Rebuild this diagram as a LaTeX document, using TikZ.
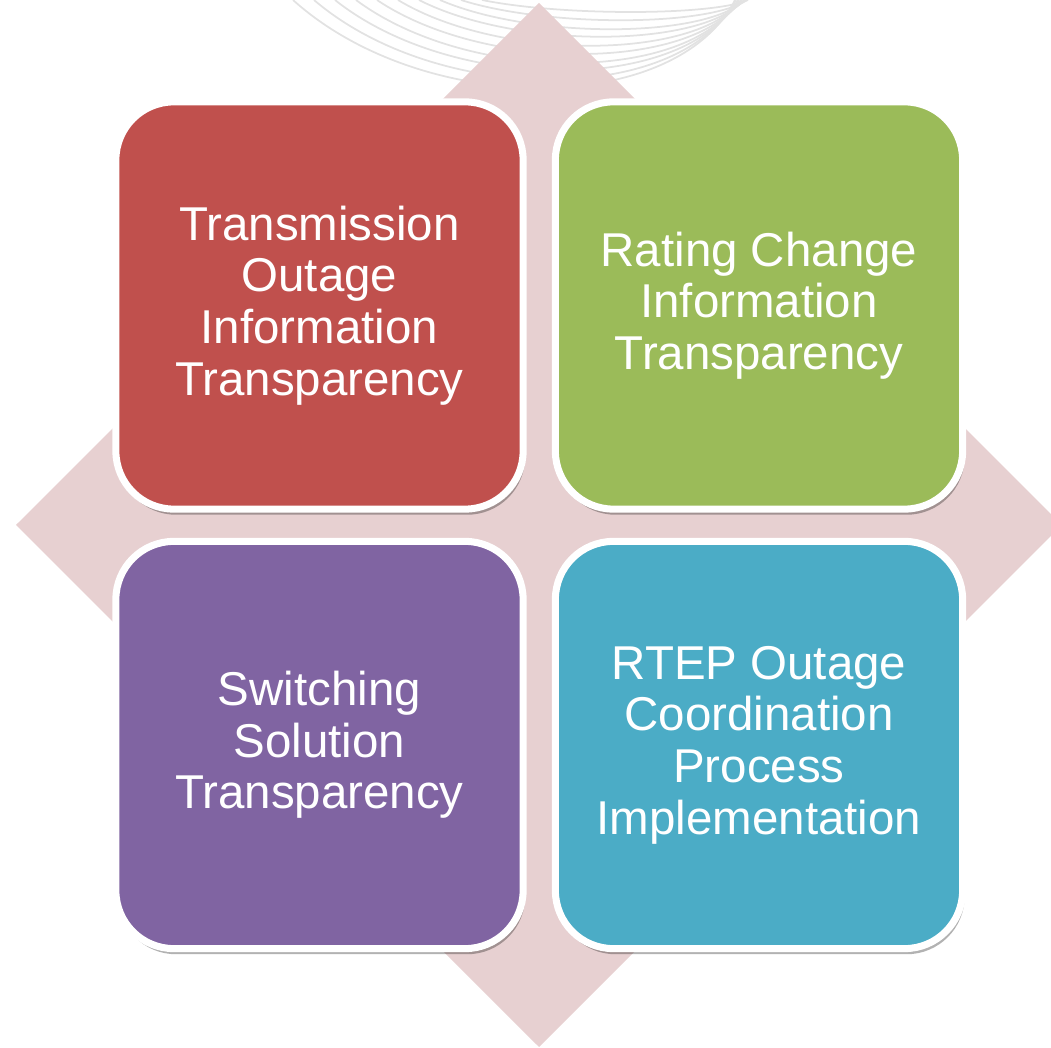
\documentclass[tikz,border=0pt]{standalone}
\usepackage{fontspec}
\setmainfont{Liberation Sans}
\usepackage{tikz}
\usetikzlibrary{shadows}
\usetikzlibrary{positioning}
\definecolor{quad_red}{HTML}{C0504D}
\definecolor{quad_green}{HTML}{9BBB59}
\definecolor{quad_purple}{HTML}{8064A2}
\definecolor{quad_teal}{HTML}{4BACC6}
\definecolor{quad_pink}{HTML}{E7D0D1}
\definecolor{quad_arc}{HTML}{E2E2E2}
\tikzstyle{quad_arc}=[draw=quad_arc, line width=0.5pt]
\tikzstyle{quad_box}=[
    rectangle, rounded corners=0.58cm, minimum size=4.07cm,
    draw=white, line width=2pt, text=white, align=center,
    font=\fontsize{13.5}{14.7}\selectfont,
    drop shadow={shadow xshift=0.6pt, shadow yshift=-1.6pt, fill=black, opacity=.3}
]

\begin{document}
\begin{tikzpicture}[x=0.01cm, y=0.01cm]
\useasboundingbox (0,0) rectangle (1051,1048);
\clip (0,0) rectangle (1051,1048);
\draw[quad_arc](293,1048) .. controls (423,931) and (675,931) .. (735,1048);
\draw[quad_arc](314,1048) .. controls (438,942) and (679,942) .. (736,1048);
\draw[quad_arc](335,1048) .. controls (453,954) and (683,954) .. (738,1048);
\draw[quad_arc](356,1048) .. controls (469,964) and (687,964) .. (739,1048);
\draw[quad_arc](377,1048) .. controls (484,976) and (691,976) .. (741,1048);
\draw[quad_arc](398,1048) .. controls (499,987) and (695,987) .. (742,1048);
\draw[quad_arc](419,1048) .. controls (515,999) and (700,999) .. (744,1048);
\draw[quad_arc](440,1048) .. controls (530,1009) and (704,1009) .. (745,1048);
\draw[quad_arc](461,1048) .. controls (545,1021) and (708,1021) .. (747,1048);
\draw[quad_arc](482,1048) .. controls (560,1032) and (712,1032) .. (748,1048);
\fill[quad_pink] (539,1045) -- (16,523) -- (539,1) -- (1062,523) -- cycle;
\node[quad_box, fill=quad_red] (box_outage) at (319.5,742.5){Transmission\\Outage\\Information\\Transparency};
\node[quad_box, fill=quad_green] (box_rating) at (759,742.5){Rating Change\\Information\\Transparency};
\node[quad_box, fill=quad_purple] (box_switching) at (319.5,303){Switching\\Solution\\Transparency};
\node[quad_box, fill=quad_teal] (box_rtep) at (759,303){RTEP Outage\\Coordination\\Process\\Implementation};
\end{tikzpicture}
\end{document}
